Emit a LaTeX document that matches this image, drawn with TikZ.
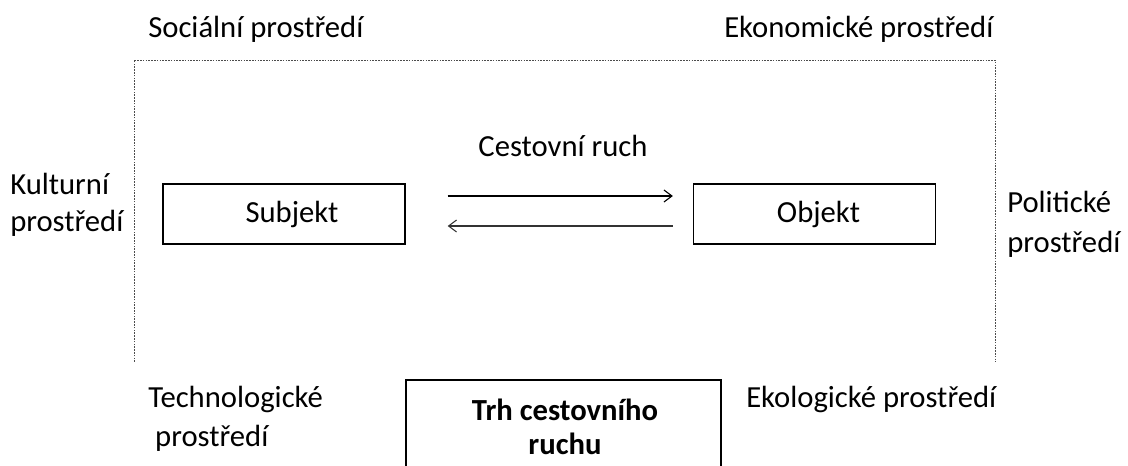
\documentclass[tikz,border=0pt]{standalone}
\usepackage{fontspec}
\setmainfont{Carlito}
\usetikzlibrary{arrows.meta}
\begin{document}
\begin{tikzpicture}[x=0.75pt,y=-0.75pt,
  lbl/.style={font=\fontsize{23}{27}\selectfont, inner sep=0pt, anchor=west},
  box/.style={draw, line width=1pt, minimum width=181.5pt, minimum height=45pt, inner sep=0pt, font=\fontsize{23}{27}\selectfont},
  frame/.style={draw=black!70, line width=0.7pt, dash pattern=on 1.2pt off 0.9pt},
  conn/.style={line width=0.8pt, -{Straight Barb[length=6pt,width=9pt]}}]
\useasboundingbox (0,0) rectangle (1128,466);
\draw[frame] (134,362) -- (134,60) -- (995,60) -- (995,362);
\node[lbl] (soc) at (148,29) {Sociální prostředí};
\node[lbl] (eko) at (724,29) {Ekonomické prostředí};
\node[lbl, align=left, font=\fontsize{23}{27.75}\selectfont] (kul) at (10,205) {Kulturní\\prostředí};
\node[lbl, align=left, font=\fontsize{23}{30}\selectfont] (pol) at (1007,224) {Politické\\prostředí};
\node[lbl, align=left, font=\fontsize{23}{29}\selectfont] (tech) at (148,419) {Technologické\\\ prostředí};
\node[lbl] (ekol) at (746,399) {Ekologické prostředí};
\node[font=\fontsize{23}{27}\selectfont, inner sep=0pt] (cr) at (563,146) {Cestovní ruch};
\node[box, text width=181.5pt, align=center] (sub) at (284,214) {\hspace*{12pt}\raisebox{-2.5pt}{Subjekt}};
\node[box, text width=181.5pt, align=center] (obj) at (814.5,214) {\hspace*{6pt}\raisebox{-2.5pt}{Objekt}};
\draw[conn] ([xshift=31.5pt,yshift=13.5pt]sub.east) -- ([xshift=-15pt,yshift=13.5pt]obj.west);
\draw[conn, draw=black!80] ([xshift=-15pt,yshift=-9pt]obj.west) -- ([xshift=31.5pt,yshift=-9pt]sub.east);
\draw[line width=0.8pt] (406,470) -- (406,380) coordinate (bl) -- (721,380) -- (721,470);
\node[font=\bfseries\fontsize{23}{26}\selectfont, align=center, inner sep=0pt] (trh) at (565,427) {Trh cestovního\\ruchu};
\end{tikzpicture}
\end{document}
